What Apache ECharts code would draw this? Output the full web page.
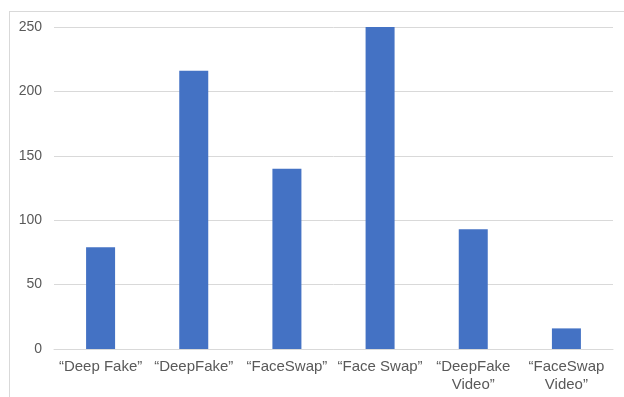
<!DOCTYPE html>
<html>
<head>
<meta charset="utf-8">
<script src="https://cdn.jsdelivr.net/npm/echarts@6/dist/echarts.min.js"></script>
<style>
  html, body {
    margin: 0;
    padding: 0;
    background: #ffffff;
  }

  .frame {
    position: absolute;
    left: 9px;
    top: 11px;
    width: 640px;
    height: 400px;
    border-left: 1px solid #d9d9d9;
    border-top: 1px solid #d9d9d9;
  }

  #chart {
    position: absolute;
    left: 0;
    top: 0;
    width: 624px;
    height: 397px;
  }
</style>
</head>
<body>
<div class="frame"></div>
<div id="chart"></div>

<script>
const categories = [
  "\u201cDeep Fake\u201d",
  "\u201cDeepFake\u201d",
  "\u201cFaceSwap\u201d",
  "\u201cFace Swap\u201d",
  "\u201cDeepFake\nVideo\u201d",
  "\u201cFaceSwap\nVideo\u201d"
];

const counts = [79, 216, 140, 250, 93, 16];

const yTicks = { min: 0, max: 250, interval: 50 };

const chart = echarts.init(document.getElementById("chart"));

chart.setOption({
  animation: false,
  grid: {
    left: 54,
    right: 11,
    top: 27,
    bottom: 48
  },
  xAxis: {
    type: "category",
    data: categories,
    axisLine: {
      lineStyle: { color: "#d9d9d9", width: 1 }
    },
    axisTick: { show: false },
    axisLabel: {
      color: "#595959",
      fontFamily: "Liberation Sans, Arial, sans-serif",
      fontSize: 15,
      lineHeight: 18,
      margin: 9,
      interval: 0
    }
  },
  yAxis: {
    type: "value",
    min: yTicks.min,
    max: yTicks.max,
    interval: yTicks.interval,
    axisLine: { show: false },
    axisTick: { show: false },
    axisLabel: {
      color: "#595959",
      fontFamily: "Liberation Sans, Arial, sans-serif",
      fontSize: 14,
      margin: 12
    },
    splitLine: {
      lineStyle: { color: "#d9d9d9", width: 1 }
    }
  },
  series: [
    {
      type: "bar",
      data: counts,
      barWidth: 29,
      itemStyle: { color: "#4472c4" }
    }
  ]
});
</script>
</body>
</html>
